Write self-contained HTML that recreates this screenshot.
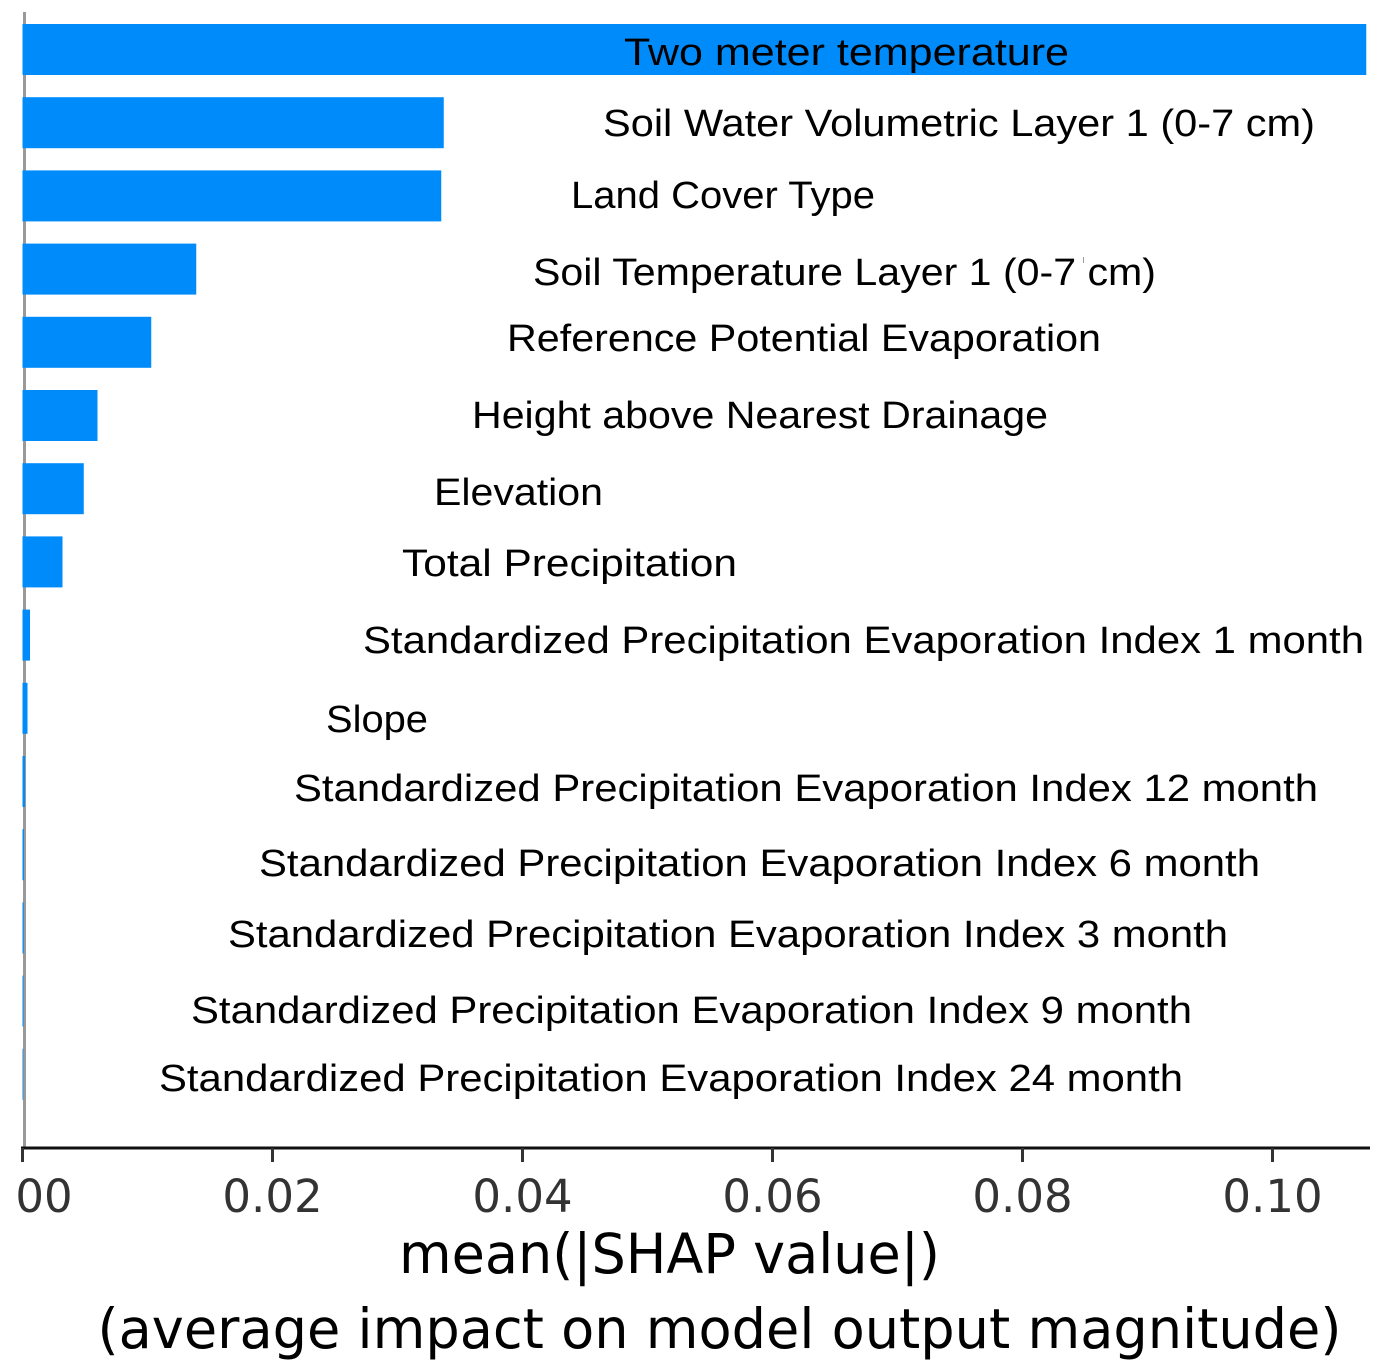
<!DOCTYPE html>
<html lang="en">
<head>
<meta charset="utf-8">
<title>SHAP feature importance</title>
<style>
html,body{margin:0;padding:0;background:#fff;width:1389px;height:1372px;overflow:hidden}
svg{display:block}
.feat{font-family:"Liberation Sans",sans-serif;font-size:38px;fill:#000}
.tick{font-family:"DejaVu Sans",sans-serif;font-size:45px;fill:#333;text-anchor:middle}
.xt{font-family:"DejaVu Sans",sans-serif;font-size:55px;fill:#000}
</style>
</head>
<body>
<svg id="chart" width="1389" height="1372" viewBox="0 0 1389 1372" xmlns="http://www.w3.org/2000/svg">
  <rect x="0" y="0" width="1389" height="1372" fill="#fff"/>
  <rect x="23" y="12" width="3" height="1136" fill="#999"/>
  <g id="bars"></g>
  <g id="feature-labels">
    <text class="feat" x="624" y="65" textLength="445" lengthAdjust="spacingAndGlyphs">Two meter temperature</text>
    <text class="feat" x="603" y="136" textLength="712" lengthAdjust="spacingAndGlyphs">Soil Water Volumetric Layer 1 (0-7 cm)</text>
    <text class="feat" x="571" y="208" textLength="304" lengthAdjust="spacingAndGlyphs">Land Cover Type</text>
    <text class="feat" x="533" y="285" textLength="623" lengthAdjust="spacingAndGlyphs">Soil Temperature Layer 1 (0-7 cm)</text>
    <text class="feat" x="507" y="351" textLength="594" lengthAdjust="spacingAndGlyphs">Reference Potential Evaporation</text>
    <text class="feat" x="472" y="428" textLength="576" lengthAdjust="spacingAndGlyphs">Height above Nearest Drainage</text>
    <text class="feat" x="434" y="505" textLength="169" lengthAdjust="spacingAndGlyphs">Elevation</text>
    <text class="feat" x="402" y="576" textLength="335" lengthAdjust="spacingAndGlyphs">Total Precipitation</text>
    <text class="feat" x="363" y="653" textLength="1001" lengthAdjust="spacingAndGlyphs">Standardized Precipitation Evaporation Index 1 month</text>
    <text class="feat" x="326" y="732" textLength="102" lengthAdjust="spacingAndGlyphs">Slope</text>
    <text class="feat" x="294" y="801" textLength="1024" lengthAdjust="spacingAndGlyphs">Standardized Precipitation Evaporation Index 12 month</text>
    <text class="feat" x="259" y="876" textLength="1001" lengthAdjust="spacingAndGlyphs">Standardized Precipitation Evaporation Index 6 month</text>
    <text class="feat" x="228" y="947" textLength="1000" lengthAdjust="spacingAndGlyphs">Standardized Precipitation Evaporation Index 3 month</text>
    <text class="feat" x="191" y="1023" textLength="1001" lengthAdjust="spacingAndGlyphs">Standardized Precipitation Evaporation Index 9 month</text>
    <text class="feat" x="159" y="1091" textLength="1024" lengthAdjust="spacingAndGlyphs">Standardized Precipitation Evaporation Index 24 month</text>
  </g>
  <rect x="1083" y="257" width="1" height="6" fill="#999"/>
  <g id="x-axis">
    <rect x="21" y="1146.5" width="1349" height="3" fill="#111"/>
  </g>
  <text class="xt" x="399" y="1273" textLength="541" lengthAdjust="spacingAndGlyphs">mean(|SHAP value|)</text>
  <text class="xt" x="97.5" y="1348" textLength="1244" lengthAdjust="spacingAndGlyphs">(average impact on model output magnitude)</text>
</svg>
<script>
const categories = ["Two meter temperature","Soil Water Volumetric Layer 1 (0-7 cm)","Land Cover Type","Soil Temperature Layer 1 (0-7 cm)","Reference Potential Evaporation","Height above Nearest Drainage","Elevation","Total Precipitation","Standardized Precipitation Evaporation Index 1 month","Slope","Standardized Precipitation Evaporation Index 12 month","Standardized Precipitation Evaporation Index 6 month","Standardized Precipitation Evaporation Index 3 month","Standardized Precipitation Evaporation Index 9 month","Standardized Precipitation Evaporation Index 24 month"];
const shapValues = [0.1075,0.0337,0.0335,0.0139,0.0103,0.0060,0.0049,0.0032,0.0006,0.0004,0.0002,0.00012,0.0001,0.00008,0.00006];
const tickValues = [0,0.02,0.04,0.06,0.08,0.10];
const tickLabels = ["00","0.02","0.04","0.06","0.08","0.10"];

const NS = "http://www.w3.org/2000/svg";
function xScale(v){ return 22.5 + v * 12500; }
function yScale(i){ return 24 + i * 73.2; }

const barsGroup = document.getElementById("bars");
categories.forEach(function(name, i){
  const r = document.createElementNS(NS, "rect");
  r.setAttribute("x", xScale(0));
  r.setAttribute("y", yScale(i));
  r.setAttribute("width", xScale(shapValues[i]) - xScale(0));
  r.setAttribute("height", 51);
  r.setAttribute("fill", "#008bfb");
  
  
  const t = document.createElementNS(NS, "title");
  t.textContent = name;
  r.appendChild(t);
  barsGroup.appendChild(r);
});

const axisGroup = document.getElementById("x-axis");
tickValues.forEach(function(v, i){
  const l = document.createElementNS(NS, "rect");
  l.setAttribute("x", xScale(v) - 1.5);
  l.setAttribute("y", 1148);
  l.setAttribute("width", 3);
  l.setAttribute("height", 14);
  l.setAttribute("fill", "#333");
  
  
  axisGroup.appendChild(l);
  const t = document.createElementNS(NS, "text");
  t.setAttribute("class", "tick");
  t.setAttribute("x", i === 0 ? xScale(v) + 21.5 : xScale(v));
  t.setAttribute("y", 1212);
  t.textContent = tickLabels[i];
  
  
  axisGroup.appendChild(t);
});
</script>
</body>
</html>
